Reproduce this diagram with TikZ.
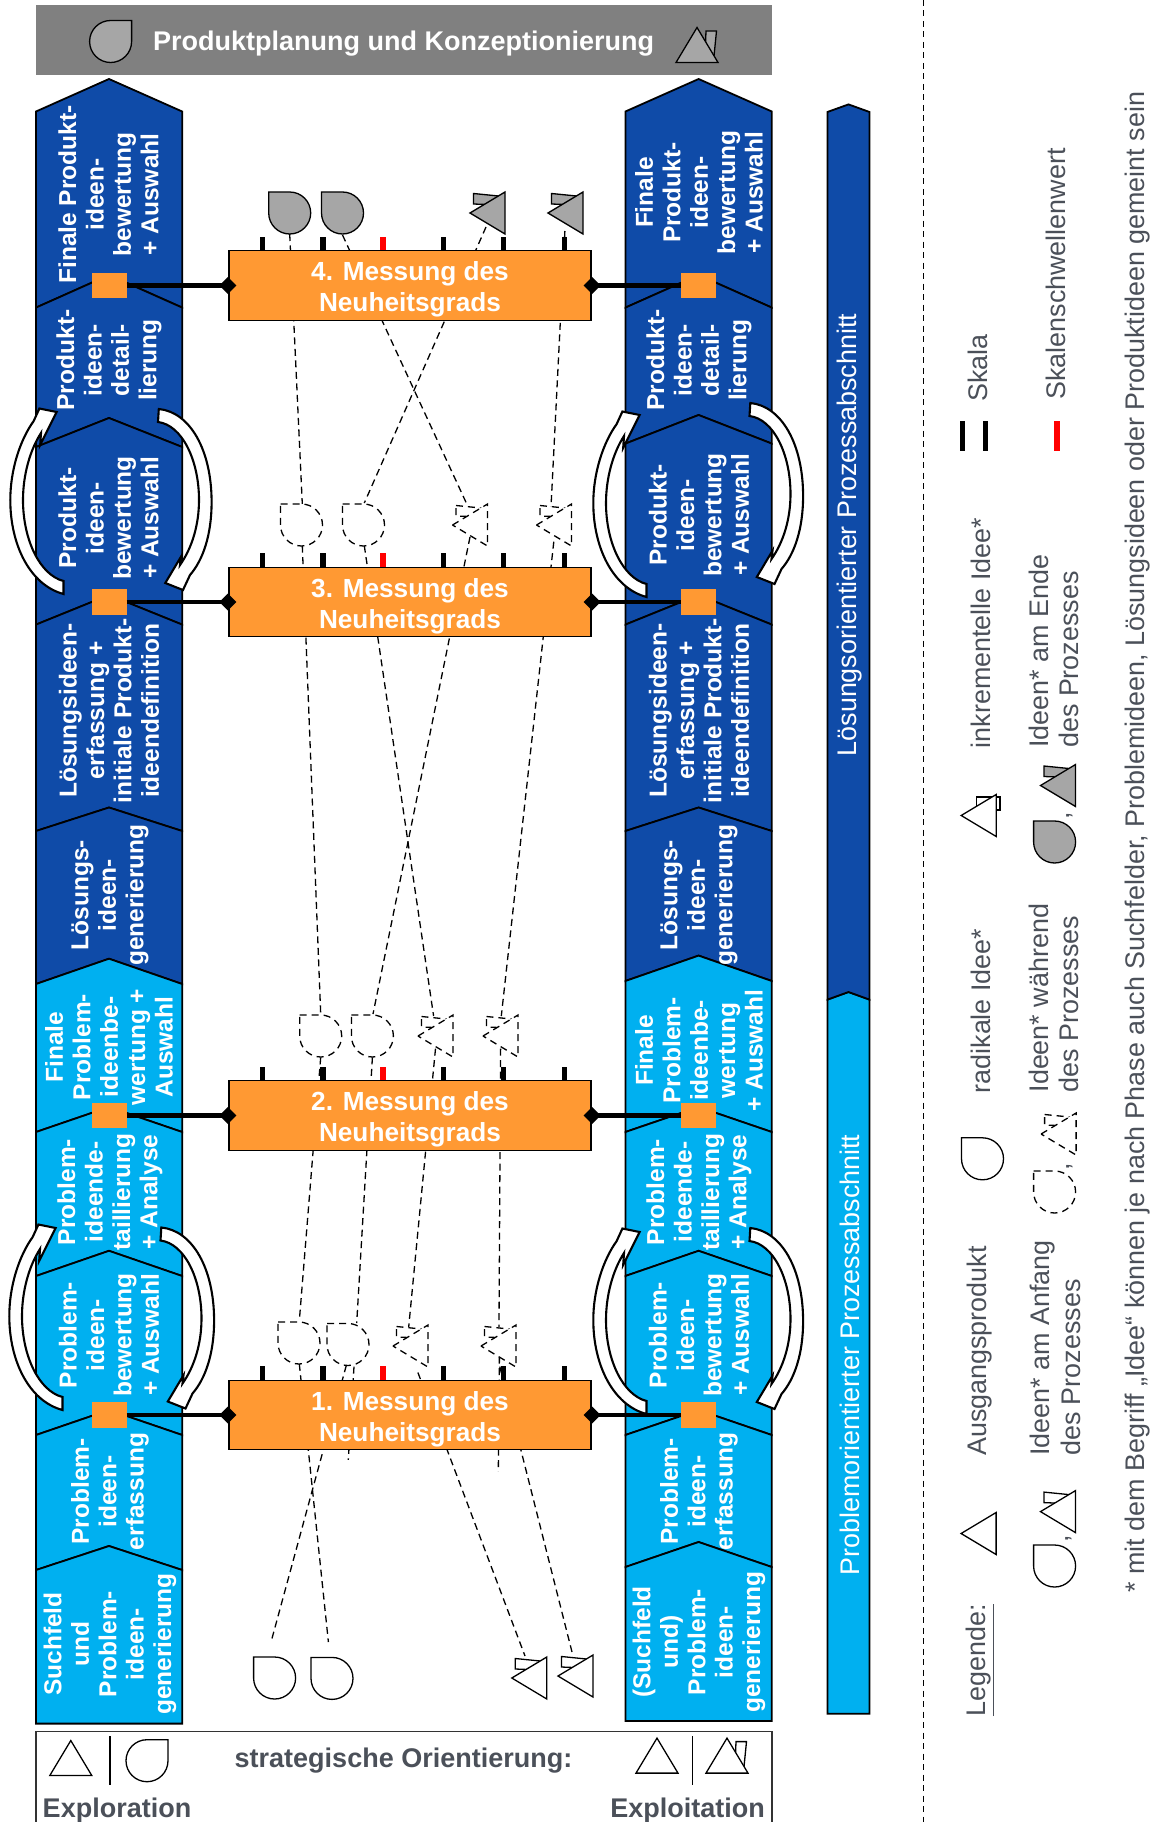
\documentclass[tikz,border=0pt]{standalone}
\usepackage{fontspec}
\setmainfont{Liberation Sans}
\usepackage{xcolor}
\usetikzlibrary{arrows.meta, positioning, calc}

\definecolor{darkblue}{HTML}{0F4BA8}
\definecolor{lightblue}{HTML}{00B0F0}
\definecolor{gateorange}{HTML}{FF9933}
\definecolor{ideagrey}{HTML}{A6A6A6}
\definecolor{headgrey}{HTML}{808080}
\definecolor{legendgrey}{HTML}{4B5059}

\tikzset{
  ideadrop/.pic={
    \draw[pic actions] (-21,-21) -- (0,-21) .. controls (11.6,-21) and (21,-11.6) .. (21,0)
      .. controls (21,11.6) and (11.6,21) .. (0,21) .. controls (-11.6,21) and (-21,11.6) .. (-21,0) -- cycle;
  },
  ideatri/.pic={
    \draw[pic actions] (-17.5,0) -- (17.5,-21) -- (17.5,21) -- cycle;
  },
  ideawedge/.pic={
    \draw[pic actions] (-14,-19.5) -- (11,-17) -- (11,-8) -- (-14,-9) -- cycle;
    \draw[pic actions] (-17.5,0) -- (17.5,-21) -- (17.5,21) -- cycle;
  },
  skala/.pic={
    \draw[tickmark] (34.3,0) -- ++(0,-13.4) (94.8,0) -- ++(0,-13.4) (214.9,0) -- ++(0,-13.4)
      (275.4,0) -- ++(0,-13.4) (335.9,0) -- ++(0,-13.4);
    \draw[tickmark, red] (154.8,0) -- ++(0,-13.4);
  },
  loopleft/.pic={
    \draw[looparrow] (27.5,94) .. controls (-6,85) and (-25.7,45) .. (-25.7,0)
      .. controls (-25.7,-30) and (-16,-60) .. (-2.3,-79) -- (3.4,-91.5) -- (20.6,-88) -- (4.2,-55.2) -- (5,-67)
      .. controls (-6,-50) and (-13,-25) .. (-13,0) .. controls (-13,40) and (4,75) .. (27.5,81) -- cycle;
  },
  loopright/.pic={
    \draw[looparrow] (-23.2,-91) .. controls (8,-88) and (29.6,-50) .. (29.6,2)
      .. controls (29.6,35) and (21,60) .. (8,75) -- (1,90) -- (-16.7,83) -- (-1,56.7) -- (-2,65)
      .. controls (10,48) and (17,25) .. (17,0) .. controls (17,-40) and (0,-75) .. (-24,-78) -- cycle;
  }
}

\begin{document}
\begin{tikzpicture}[
    x=1pt, y=-1pt,
    segdark/.style={draw, line width=1.8pt, fill=darkblue, line join=miter},
    seglight/.style={draw, line width=1.8pt, fill=lightblue, line join=miter},
    seglabel/.style={rotate=90, align=center, inner sep=0pt, text=white, font=\fontsize{24.5}{27.4}\selectfont\bfseries},
    barlabel/.style={rotate=90, inner sep=0pt, text=white, font=\fontsize{26.9}{31}\selectfont},
    measure/.style={draw, line width=1.3pt, fill=gateorange, minimum width=362pt, minimum height=69.5pt, align=center, inner sep=0pt, text height=58.4pt, text=white, font=\fontsize{26.2}{31.4}\selectfont\bfseries},
    gate/.style={fill=gateorange, minimum width=35pt, minimum height=25.3pt, inner sep=0pt},
    link/.style={-{Diamond[length=17pt, width=17pt]}, line width=4.6pt, shorten >=-8pt},
    tickmark/.style={line width=5.4pt},
    looparrow/.style={draw, line width=2.1pt, fill=white, line join=miter},
    idealine/.style={line width=1.3pt, dash pattern=on 7pt off 4.5pt},
    ideadash/.style={line width=1.3pt, dash pattern=on 7pt off 5pt, fill=white},
    ideafull/.style={line width=1.3pt, fill=white},
    ideafill/.style={line width=1.3pt, fill=ideagrey},
    legendlabel/.style={rotate=90, inner sep=0pt, align=left, text=legendgrey, font=\fontsize{26.9}{30.5}\selectfont},
    panellabel/.style={inner sep=0pt, text=legendgrey, font=\fontsize{27}{31}\selectfont\bfseries}
  ]
  \useasboundingbox (0,0) rectangle (1154,1822);

  % head bar
  \fill[headgrey] (36,5) rectangle (771.8,74.7);
  \node[inner sep=0pt, text=white, font=\fontsize{27}{31}\selectfont\bfseries] (headtitle) at (403.5,43.5) {Produktplanung und Konzeptionierung};
  \pic[ideafill, rotate=-90] at (110.6,41.5) {ideadrop};
  \pic[ideafill, rotate=-90] at (697,45) {ideawedge};

  % left column
  \draw[segdark] (36,111.5) -- (109,79) -- (182.2,111.5) -- (182.2,307.6) -- (109,275) -- (36,307.6) -- cycle;
  \draw[segdark] (36,307.6) -- (109,275) -- (182.2,307.6) -- (182.2,447) -- (109,418) -- (36,447) -- cycle;
  \draw[segdark] (36,447) -- (109,418) -- (182.2,447) -- (182.2,624.6) -- (109,595) -- (36,624.6) -- cycle;
  \draw[segdark] (36,624.6) -- (109,595) -- (182.2,624.6) -- (182.2,831) -- (109,807.5) -- (36,831) -- cycle;
  \draw[segdark] (36,831) -- (109,807.5) -- (182.2,831) -- (182.2,984) -- (109,958.7) -- (36,984) -- cycle;
  \draw[seglight] (36,984) -- (109,958.7) -- (182.2,984) -- (182.2,1132) -- (109,1107) -- (36,1132) -- cycle;
  \draw[seglight] (36,1132) -- (109,1107) -- (182.2,1132) -- (182.2,1276) -- (109,1250.8) -- (36,1276) -- cycle;
  \draw[seglight] (36,1276) -- (109,1250.8) -- (182.2,1276) -- (182.2,1435) -- (109,1410) -- (36,1435) -- cycle;
  \draw[seglight] (36,1435) -- (109,1410) -- (182.2,1435) -- (182.2,1570) -- (109,1546) -- (36,1570) -- cycle;
  \draw[seglight] (36,1570) -- (109,1546) -- (182.2,1570) -- (182.2,1723.6) -- (36,1723.6) -- cycle;

  % right column
  \draw[segdark] (625.4,111.5) -- (698.6,79) -- (771.8,111.5) -- (771.8,307.6) -- (698.6,275) -- (625.4,307.6) -- cycle;
  \draw[segdark] (625.4,307.6) -- (698.6,275) -- (771.8,307.6) -- (771.8,443.6) -- (698.6,415) -- (625.4,443.6) -- cycle;
  \draw[segdark] (625.4,443.6) -- (698.6,415) -- (771.8,443.6) -- (771.8,624.6) -- (698.6,595) -- (625.4,624.6) -- cycle;
  \draw[segdark] (625.4,624.6) -- (698.6,595) -- (771.8,624.6) -- (771.8,831) -- (698.6,807.5) -- (625.4,831) -- cycle;
  \draw[segdark] (625.4,831) -- (698.6,807.5) -- (771.8,831) -- (771.8,981) -- (698.6,955.6) -- (625.4,981) -- cycle;
  \draw[seglight] (625.4,981) -- (698.6,955.6) -- (771.8,981) -- (771.8,1132) -- (698.6,1107) -- (625.4,1132) -- cycle;
  \draw[seglight] (625.4,1132) -- (698.6,1107) -- (771.8,1132) -- (771.8,1276) -- (698.6,1250.8) -- (625.4,1276) -- cycle;
  \draw[seglight] (625.4,1276) -- (698.6,1250.8) -- (771.8,1276) -- (771.8,1435) -- (698.6,1410) -- (625.4,1435) -- cycle;
  \draw[seglight] (625.4,1435) -- (698.6,1410) -- (771.8,1435) -- (771.8,1567) -- (698.6,1542) -- (625.4,1567) -- cycle;
  \draw[seglight] (625.4,1567) -- (698.6,1542) -- (771.8,1567) -- (771.8,1721) -- (625.4,1721) -- cycle;

  % loops
  \pic at (36,500) {loopleft};
  \pic at (182,500) {loopright};
  \pic at (35,1316) {loopleft};
  \pic at (184.5,1318.5) {loopright};
  \pic at (619,503) {loopleft};
  \pic at (773.5,494) {loopright};
  \pic at (619,1320) {loopleft};
  \pic at (773.5,1319) {loopright};

  % column labels
  \node[seglabel] (lseg10) at (108.5,194.5) {Finale Produkt-\\ideen-\\bewertung\\+ Auswahl};
  \node[seglabel] (lseg9) at (109,360) {Produkt-\\ideen-\\detail-\\lierung};
  \node[seglabel] (lseg8) at (108.5,518) {Produkt-\\ideen-\\bewertung\\+ Auswahl};
  \node[seglabel] (lseg7) at (109,710.7) {Lösungsideen-\\erfassung +\\initiale Produkt-\\ideendefinition};
  \node[seglabel] (lseg6) at (110,895) {Lösungs-\\ideen-\\generierung};
  \node[seglabel] (lseg5) at (109,1047) {Finale\\Problem-\\ideenbe-\\wertung +\\Auswahl};
  \node[seglabel] (lseg4) at (110,1192) {Problem-\\ideende-\\taillierung\\+ Analyse};
  \node[seglabel] (lseg3) at (109,1335) {Problem-\\ideen-\\bewertung\\+ Auswahl};
  \node[seglabel] (lseg2) at (110,1491.5) {Problem-\\ideen-\\erfassung};
  \node[seglabel] (lseg1) at (110,1644) {Suchfeld\\und\\Problem-\\ideen-\\generierung};

  \node[seglabel] (rseg10) at (699,192.6) {Finale\\Produkt-\\ideen-\\bewertung\\+ Auswahl};
  \node[seglabel] (rseg9) at (699,360) {Produkt-\\ideen-\\detail-\\lierung};
  \node[seglabel] (rseg8) at (699,515) {Produkt-\\ideen-\\bewertung\\+ Auswahl};
  \node[seglabel] (rseg7) at (699,710.7) {Lösungsideen-\\erfassung +\\initiale Produkt-\\ideendefinition};
  \node[seglabel] (rseg6) at (699,895) {Lösungs-\\ideen-\\generierung};
  \node[seglabel] (rseg5) at (699,1050.5) {Finale\\Problem-\\ideenbe-\\wertung\\+ Auswahl};
  \node[seglabel] (rseg4) at (699,1192) {Problem-\\ideende-\\taillierung\\+ Analyse};
  \node[seglabel] (rseg3) at (699,1335) {Problem-\\ideen-\\bewertung\\+ Auswahl};
  \node[seglabel] (rseg2) at (699,1491.5) {Problem-\\ideen-\\erfassung};
  \node[seglabel] (rseg1) at (699,1642) {(Suchfeld\\und)\\Problem-\\ideen-\\generierung};

  % section bar
  \draw[seglight] (827.4,999.6) -- (848.5,992) -- (869.5,999.6) -- (869.5,1713.7) -- (827.4,1713.7) -- cycle;
  \draw[segdark] (827.4,112) -- (848.5,104.4) -- (869.5,112) -- (869.5,999.6) -- (848.5,992) -- (827.4,999.6) -- cycle;
  \node[barlabel] (barsol) at (850,535) {Lösungsorientierter Prozessabschnitt};
  \node[barlabel] (barprob) at (850,1355) {Problemorientierter Prozessabschnitt};

  % idea traces
  \coordinate (a4b) at (289.7,234);
  \coordinate (b4b) at (342.5,235);
  \coordinate (c4b) at (486,227);
  \coordinate (d4b) at (564.9,231);
  \coordinate (a3t) at (302.3,504);
  \coordinate (b3t) at (364.3,503);
  \coordinate (c3t) at (467.7,506);
  \coordinate (d3t) at (551,507);
  \coordinate (a3b) at (302.3,545.7);
  \coordinate (b3b) at (364.3,545.7);
  \coordinate (c3b) at (470,537);
  \coordinate (d3b) at (553.8,541.7);
  \coordinate (a2t) at (320.7,1014);
  \coordinate (b2t) at (373,1014);
  \coordinate (c2t) at (433.6,1016);
  \coordinate (d2t) at (501.3,1016);
  \coordinate (a2b) at (320.7,1057.4);
  \coordinate (b2b) at (372.4,1057.4);
  \coordinate (c2b) at (435.5,1048.6);
  \coordinate (d2b) at (500.6,1048.6);
  \coordinate (a1t) at (299.3,1321);
  \coordinate (b1t) at (356.7,1323);
  \coordinate (c1t) at (408.7,1327);
  \coordinate (d1t) at (499,1327);
  \coordinate (a1b) at (299.3,1363.8);
  \coordinate (b1b) at (346.3,1365.4);
  \coordinate (e1b) at (354,1366.6);
  \coordinate (e1s) at (348.3,1459.8);
  \coordinate (c1b) at (417.9,1372.5);
  \coordinate (d1b) at (499.4,1356.7);
  \coordinate (d1s) at (498.3,1471.7);
  \coordinate (f1b) at (499.8,1366.6);
  \coordinate (a0t) at (271.7,1639.5);
  \coordinate (b0t) at (328.4,1642);
  \coordinate (c0t) at (525,1656);
  \coordinate (d0t) at (572,1652);

  \draw[idealine] (a4b) -- (a3t);
  \draw[idealine] (b4b) -- (c3t);
  \draw[idealine] (c4b) -- (b3t);
  \draw[idealine] (d4b) -- (d3t);
  \draw[idealine] (a3b) -- (a2t);
  \draw[idealine] (b3b) -- (c2t);
  \draw[idealine] (c3b) -- (b2t);
  \draw[idealine] (d3b) -- (d2t);
  \draw[idealine] (a2b) -- (a1t);
  \draw[idealine] (b2b) -- (b1t);
  \draw[idealine] (c2b) -- (c1t);
  \draw[idealine] (d2b) -- (d1t);
  \draw[idealine] (a1b) -- (b0t);
  \draw[idealine] (b1b) -- (a0t);
  \draw[idealine] (e1b) -- (e1s);
  \draw[idealine] (c1b) -- (c0t);
  \draw[idealine] (d1b) -- (d1s);
  \draw[idealine] (f1b) -- (d0t);

  % measurements
  \node[measure] (mess4) at (410,285.5) {4. Messung des\\Neuheitsgrads};
  \node[measure] (mess3) at (410,602) {3. Messung des\\Neuheitsgrads};
  \node[measure] (mess2) at (410,1115.5) {2. Messung des\\Neuheitsgrads};
  \node[measure] (mess1) at (410,1415) {1. Messung des\\Neuheitsgrads};
  \pic at (mess4.north west) {skala};
  \pic at (mess3.north west) {skala};
  \pic at (mess2.north west) {skala};
  \pic at (mess1.north west) {skala};

  \node[gate] (gateL4) at (109,285.5) {};
  \node[gate] (gateL3) at (109,602) {};
  \node[gate] (gateL2) at (109,1115.5) {};
  \node[gate] (gateL1) at (109,1415) {};
  \node[gate] (gateR4) at (698.6,285.5) {};
  \node[gate] (gateR3) at (698.6,602) {};
  \node[gate] (gateR2) at (698.6,1115.5) {};
  \node[gate] (gateR1) at (698.6,1415) {};

  \draw[link] (gateL4) -- (mess4.west);
  \draw[link] (gateL3) -- (mess3.west);
  \draw[link] (gateL2) -- (mess2.west);
  \draw[link] (gateL1) -- (mess1.west);
  \draw[link] (gateR4) -- (mess4.east);
  \draw[link] (gateR3) -- (mess3.east);
  \draw[link] (gateR2) -- (mess2.east);
  \draw[link] (gateR1) -- (mess1.east);

  % ideas
  \pic[ideafill] at (289.7,213) {ideadrop};
  \pic[ideafill] at (342.5,213) {ideadrop};
  \pic[ideafill] at (487.5,213) {ideawedge};
  \pic[ideafill] at (565.5,213) {ideawedge};
  \pic[ideadash] at (301.5,525) {ideadrop};
  \pic[ideadash] at (363.5,525) {ideadrop};
  \pic[ideadash] at (470,525) {ideawedge};
  \pic[ideadash] at (554,525) {ideawedge};
  \pic[ideadash] at (320.7,1036) {ideadrop};
  \pic[ideadash] at (372.4,1036) {ideadrop};
  \pic[ideadash] at (435.5,1036) {ideawedge};
  \pic[ideadash] at (500.5,1036) {ideawedge};
  \pic[ideadash] at (299,1343) {ideadrop};
  \pic[ideadash] at (348,1344.5) {ideadrop};
  \pic[ideadash] at (410.5,1346) {ideawedge};
  \pic[ideadash] at (498.5,1346) {ideawedge};
  \pic[ideafull] at (274.6,1678) {ideadrop};
  \pic[ideafull] at (332,1678.4) {ideadrop};
  \pic[ideafull] at (529.3,1678) {ideawedge};
  \pic[ideafull] at (575.5,1676) {ideawedge};

  % orientation panel
  \draw[line width=1.4pt, draw=black!80] (36,1840) -- (36,1731.5) -- (772,1731.5) -- (772,1840);
  \pic[ideafull, rotate=-90] at (70.8,1758) {ideatri};
  \draw[line width=1.2pt] (110,1736) -- (110,1785);
  \pic[ideafull, rotate=-90] at (147,1760.7) {ideadrop};
  \node[panellabel] (strat) at (403.5,1760.5) {strategische Orientierung:};
  \node[panellabel] (explor) at (117,1810) {Exploration};
  \node[panellabel] (exploit) at (687.6,1810) {Exploitation};
  \pic[ideafull, rotate=-90] at (657,1755.6) {ideatri};
  \draw[line width=1.2pt] (692.7,1736) -- (692.7,1785);
  \pic[ideafull, rotate=-90] at (727,1755.6) {ideawedge};

  % legend
  \draw[line width=1.4pt, dash pattern=on 6pt off 4.5pt] (923.3,0) -- (923.3,1822);
  \node[legendlabel] (leghead) at (980,1660) {\underline{Legende:}};
  \node[legendlabel] (legstart) at (979.5,1351) {Ausgangsprodukt};
  \node[legendlabel] (legrad) at (981,1011) {radikale Idee*};
  \node[legendlabel] (leginc) at (981,633) {inkrementelle Idee*};
  \node[legendlabel] (legscale) at (977.4,368) {Skala};
  \node[legendlabel] (legthres) at (1055.7,274) {Skalenschwellenwert};
  \node[legendlabel, anchor=west] (legbegin) at (1055.5,1456) {Ideen* am Anfang\\des Prozesses};
  \node[legendlabel, anchor=west] (legmid) at (1054,1092.6) {Ideen* während\\des Prozesses};
  \node[legendlabel, anchor=west] (legfinal) at (1054,748) {Ideen* am Ende\\des Prozesses};
  \node[legendlabel] (legnote) at (1138,842) {* mit dem Begriff „Idee“ können je nach Phase auch Suchfelder, Problemideen, Lösungsideen oder Produktideen gemeint sein};

  \pic[ideafull] at (978.6,1533.5) {ideatri};
  \pic[ideafull] at (982.5,1158.8) {ideadrop};
  \draw[line width=1.3pt, fill=white] (976.4,797) rectangle (1000,810);
  \pic[ideafull] at (978.7,815.5) {ideatri};
  \draw[tickmark] (962.5,421) -- (962.5,450.8);
  \draw[tickmark] (985.5,421) -- (985.5,450.8);
  \draw[tickmark, red] (1057,421) -- (1057,450.8);

  \pic[ideafull] at (1054.6,1566) {ideadrop};
  \node[legendlabel] (commaA) at (1069,1539) {,};
  \pic[ideafull] at (1058,1511.6) {ideawedge};
  \pic[ideadash] at (1054.6,1192) {ideadrop};
  \node[legendlabel] (commaB) at (1069.7,1167) {,};
  \pic[ideadash] at (1058.6,1134) {ideawedge};
  \pic[ideafill] at (1054.6,842) {ideadrop};
  \node[legendlabel] (commaC) at (1069.7,816) {,};
  \pic[ideafill] at (1058,785.5) {ideawedge};
\end{tikzpicture}
\end{document}
